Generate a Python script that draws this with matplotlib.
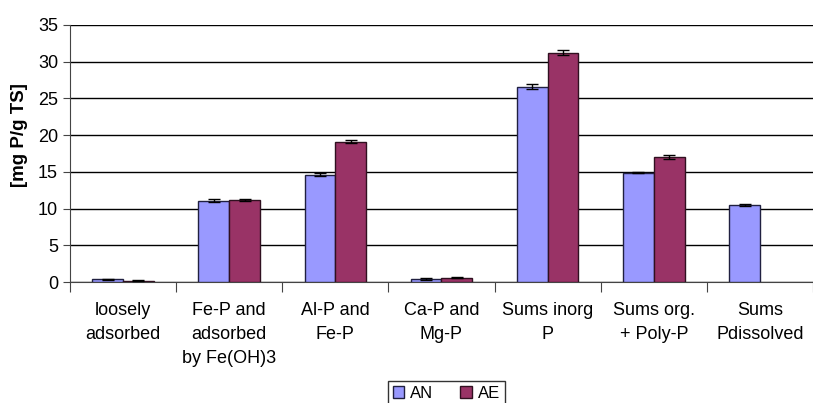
import numpy as np
import matplotlib.pyplot as plt

plt.rcParams['font.family'] = ['Liberation Sans', 'DejaVu Sans']

categories = ['loosely\nadsorbed', 'Fe-P and\nadsorbed\nby Fe(OH)3', 'Al-P and\nFe-P',
              'Ca-P and\nMg-P', 'Sums inorg\nP', 'Sums org.\n+ Poly-P', 'Sums\nPdissolved']
an_vals = [0.4, 11.1, 14.6, 0.4, 26.6, 14.9, 10.5]
ae_vals = [0.2, 11.2, 19.1, 0.6, 31.2, 17.0, np.nan]
an_err = [0.05, 0.2, 0.2, 0.1, 0.35, 0.1, 0.15]
ae_err = [0.05, 0.15, 0.2, 0.05, 0.35, 0.25, np.nan]

fig = plt.figure(figsize=(8.13, 4.03), dpi=100)
ax = fig.add_axes([0.086, 0.30, 0.914, 0.638])

x = np.arange(len(categories))
w = 0.29
ax.bar(x - w/2, an_vals, w, color='#9999FF', edgecolor='#202040', lw=1.0, label='AN',
       yerr=an_err, error_kw=dict(ecolor='black', capsize=4, elinewidth=1), zorder=3)
ax.bar(x + w/2, ae_vals, w, color='#993366', edgecolor='#301020', lw=1.0, label='AE',
       yerr=ae_err, error_kw=dict(ecolor='black', capsize=4, elinewidth=1), zorder=3)

ax.set_xlim(-0.5, len(categories) - 0.5)
ax.set_ylim(0, 35)
ax.set_yticks(np.arange(0, 36, 5))
ax.yaxis.grid(True, color='black', lw=1.0)
ax.set_axisbelow(True)

ax.set_xticks(np.arange(-0.5, len(categories) - 0.4, 1))
ax.set_xticklabels([])
ax.set_xticks(x, minor=True)
ax.set_xticklabels(categories, minor=True, fontsize=13, linespacing=1.55)
ax.tick_params(axis='x', which='minor', length=0, pad=14)
ax.tick_params(axis='x', which='major', length=7, direction='out', color='#444444')
ax.tick_params(axis='y', labelsize=13, length=5, color='#444444')

for s in ['top', 'right']:
    ax.spines[s].set_visible(False)
ax.spines['left'].set_color('#444444')
ax.spines['bottom'].set_color('#444444')

ax.set_ylabel('[mg P/g TS]', fontsize=13.5, fontweight='bold')
ax.yaxis.set_label_coords(-0.057, 0.57)

leg = fig.legend(loc='upper center', bbox_to_anchor=(0.549, 0.075), ncol=2, frameon=True,
                 fancybox=False, edgecolor='black', fontsize=12, handlelength=0.7,
                 handleheight=0.7, handletextpad=0.35, columnspacing=1.6, borderpad=0.3)

fig.savefig('out.png', dpi=100)
